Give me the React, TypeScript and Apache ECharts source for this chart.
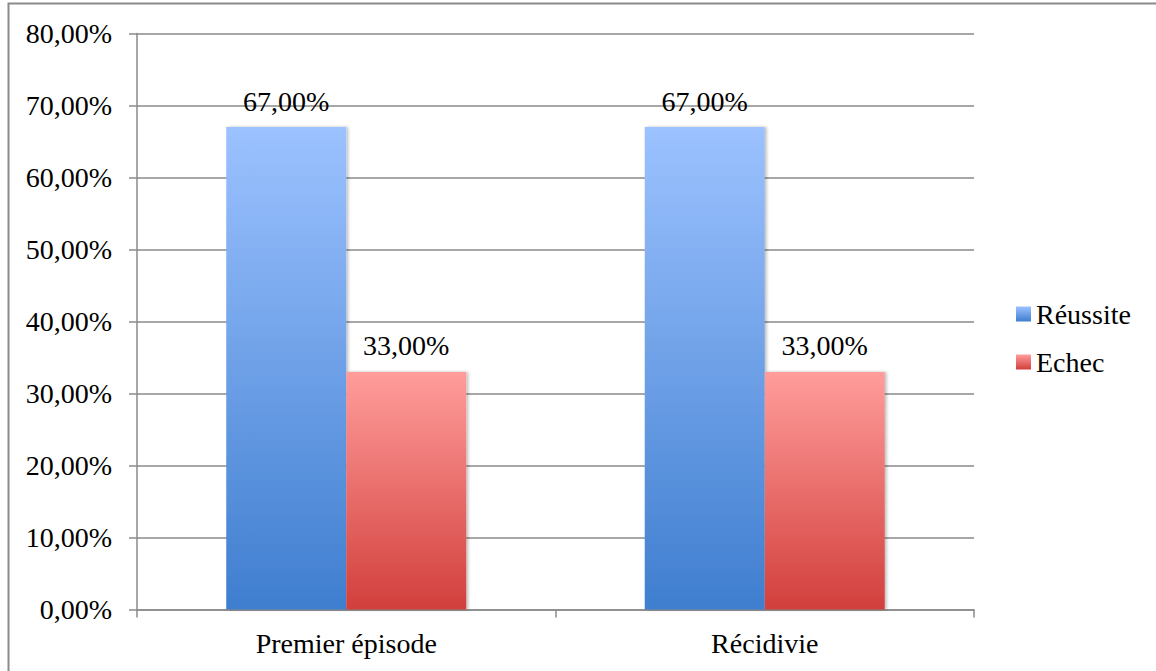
import React, { useEffect, useRef } from "react";
import * as echarts from "echarts";

const categories = ["Premier épisode", "Récidivie"];
const seriesNames = ["Réussite", "Echec"];
const reussite = [67, 67];
const echec = [33, 33];
const yTicks = { min: 0, max: 80, interval: 10 };

const FONT = "'Liberation Serif', 'DejaVu Serif', serif";
const FS = 28;

const fmt = (v: number) => v.toFixed(2).replace(".", ",") + "%";

export default function App() {
  const ref = useRef<HTMLDivElement>(null);
  useEffect(() => {
    if (!ref.current) return;
    const chart = echarts.init(ref.current, null, { renderer: "svg" });
    const blue = new echarts.graphic.LinearGradient(0, 0, 0, 1, [
      { offset: 0, color: "#9CC2FF" },
      { offset: 1, color: "#3F7ECF" },
    ]);
    const red = new echarts.graphic.LinearGradient(0, 0, 0, 1, [
      { offset: 0, color: "#FF9D9B" },
      { offset: 1, color: "#D23F3C" },
    ]);
    const labelCfg = {
      show: true,
      position: "top",
      distance: 12,
      fontFamily: FONT,
      fontSize: FS,
      color: "#000",
      formatter: (p: any) => fmt(p.value),
    };
    const shadow = {
      shadowColor: "rgba(0,0,0,0.25)",
      shadowBlur: 3,
      shadowOffsetX: 2,
      shadowOffsetY: 0,
    };
    chart.setOption({
      animation: false,
      backgroundColor: "#fff",
      textStyle: { fontFamily: FONT },
      graphic: [
        {
          type: "rect",
          shape: { x: 8.5, y: 3.5, width: 1160, height: 680 },
          style: { fill: "none", stroke: "#8a8a8a", lineWidth: 2 },
          silent: true,
        },
      ],
      grid: { left: 137, right: 182, top: 33.5, bottom: 61.5, containLabel: false },
      legend: {
        orient: "vertical",
        left: 1011,
        top: 295,
        itemWidth: 15,
        itemHeight: 15,
        itemGap: 20,
        icon: "rect",
        textStyle: { fontFamily: FONT, fontSize: FS, color: "#000" },
        data: seriesNames,
      },
      xAxis: {
        type: "category",
        data: categories,
        axisLine: { lineStyle: { color: "#8a8a8a", width: 1.5 } },
        axisTick: { show: true, length: 8, lineStyle: { color: "#8a8a8a", width: 1.5 } },
        axisLabel: { fontFamily: FONT, fontSize: FS, color: "#000", margin: 20 },
      },
      yAxis: {
        type: "value",
        min: yTicks.min,
        max: yTicks.max,
        interval: yTicks.interval,
        axisLine: { show: true, lineStyle: { color: "#8a8a8a", width: 1.5 } },
        axisTick: { show: true, length: 8, lineStyle: { color: "#8a8a8a", width: 1.5 } },
        splitLine: { lineStyle: { color: "#8a8a8a", width: 1.5 } },
        axisLabel: {
          fontFamily: FONT,
          fontSize: FS,
          color: "#000",
          margin: 25,
          formatter: (v: number) => fmt(v),
        },
      },
      series: [
        {
          name: seriesNames[0],
          type: "bar",
          data: reussite,
          barWidth: 120,
          barGap: "0%",
          itemStyle: { color: blue, ...shadow },
          label: labelCfg,
        },
        {
          name: seriesNames[1],
          type: "bar",
          data: echec,
          barWidth: 120,
          barGap: "0%",
          itemStyle: { color: red, ...shadow },
          label: labelCfg,
        },
      ],
    });
    return () => chart.dispose();
  }, []);
  return (
    <div
      ref={ref}
      style={{ position: "absolute", left: 0, top: 0, width: 1156, height: 671 }}
    />
  );
}
